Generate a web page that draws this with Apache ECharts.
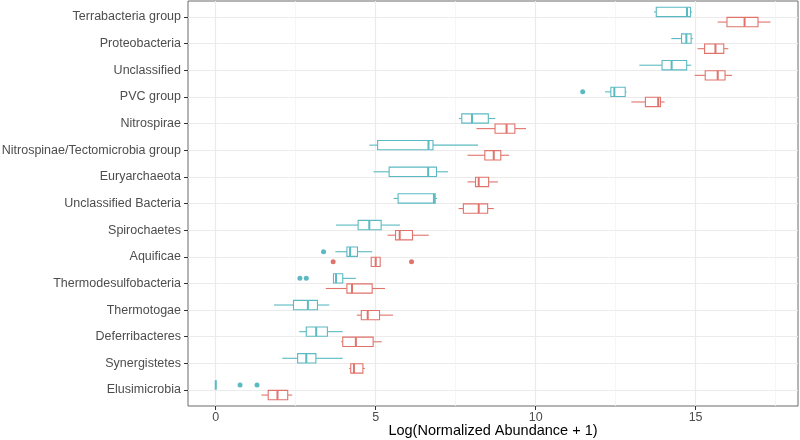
<!DOCTYPE html>
<html>
<head>
<meta charset="utf-8">
<script src="https://cdn.jsdelivr.net/npm/echarts@6/dist/echarts.min.js"></script>
<style>
  html, body { margin: 0; padding: 0; background: #fff; }
  #chart { width: 800px; height: 440px; }
</style>
</head>
<body>
<div id="chart"></div>
<script>
// categories, top to bottom
const categories = [
  'Terrabacteria group', 'Proteobacteria', 'Unclassified', 'PVC group', 'Nitrospirae',
  'Nitrospinae/Tectomicrobia group', 'Euryarchaeota', 'Unclassified Bacteria', 'Spirochaetes',
  'Aquificae', 'Thermodesulfobacteria', 'Thermotogae', 'Deferribacteres', 'Synergistetes',
  'Elusimicrobia'
]

// [lower whisker, Q1, median, Q3, upper whisker]
const tealBoxes = [
  [13.70, 13.77, 14.73, 14.84, 14.89],
  [14.24, 14.56, 14.71, 14.86, 14.92],
  [13.24, 13.95, 14.25, 14.72, 14.86],
  [12.17, 12.35, 12.46, 12.80, 12.84],
  [7.60, 7.69, 8.01, 8.52, 8.74],
  [4.80, 5.06, 6.65, 6.79, 8.20],
  [4.93, 5.42, 6.64, 6.90, 7.26],
  [5.56, 5.70, 6.82, 6.86, 6.92],
  [3.76, 4.45, 4.80, 5.17, 5.76],
  [3.74, 4.10, 4.20, 4.43, 4.89],
  [3.68, 3.68, 3.76, 3.97, 4.38],
  [1.82, 2.43, 2.88, 3.18, 3.55],
  [2.61, 2.83, 3.14, 3.49, 3.97],
  [2.08, 2.56, 2.83, 3.13, 3.97],
  [0, 0, 0, 0, 0]
]
const redBoxes = [
  [15.69, 15.98, 16.53, 16.95, 17.34],
  [15.06, 15.28, 15.62, 15.88, 16.02],
  [14.97, 15.30, 15.69, 15.92, 16.14],
  [12.99, 13.43, 13.83, 13.90, 14.03],
  [8.15, 8.73, 9.09, 9.35, 9.70],
  [7.87, 8.41, 8.69, 8.91, 9.17],
  [7.87, 8.12, 8.22, 8.53, 8.82],
  [7.59, 7.74, 8.22, 8.50, 8.69],
  [5.37, 5.62, 5.75, 6.15, 6.66],
  [4.86, 4.86, 5.00, 5.14, 5.14],
  [3.44, 4.10, 4.26, 4.89, 5.29],
  [4.41, 4.55, 4.75, 5.12, 5.54],
  [3.92, 3.97, 4.38, 4.92, 5.19],
  [4.17, 4.22, 4.32, 4.60, 4.66],
  [1.43, 1.64, 1.93, 2.25, 2.39]
]

// outliers: [value, category index]
const tealOutliers = [[11.47, 3], [3.37, 9], [2.63, 10], [2.83, 10], [0.76, 14], [1.29, 14]]
const redOutliers = [[3.67, 9], [6.12, 9]]

const xTicks = [0, 5, 10, 15]
const xMinorTicks = [2.5, 7.5, 12.5, 17.5]

const TEAL = '#5bbac1'
const RED = '#e0736b'
const DODGE = 0.19
const HALF = 0.175

function boxSeries(boxes, offset, color) {
  return {
    type: 'custom',
    xAxisIndex: 0,
    yAxisIndex: 0,
    data: boxes.map((b, i) => [i, ...b]),
    encode: { x: [1, 2, 3, 4, 5], y: 0 },
    renderItem(params, api) {
      const y = api.value(0) + offset
      const lo = api.coord([api.value(1), y])
      const q1 = api.coord([api.value(2), y])
      const md = api.coord([api.value(3), y])
      const q3 = api.coord([api.value(4), y])
      const hi = api.coord([api.value(5), y])
      const h = api.size([0, HALF * 2])[1]
      const top = md[1] - h / 2
      return {
        type: 'group',
        children: [
          { type: 'line', shape: { x1: lo[0], y1: lo[1], x2: q1[0], y2: q1[1] }, style: { stroke: color, lineWidth: 1.1 } },
          { type: 'line', shape: { x1: q3[0], y1: q3[1], x2: hi[0], y2: hi[1] }, style: { stroke: color, lineWidth: 1.1 } },
          { type: 'rect', shape: { x: q1[0], y: top, width: q3[0] - q1[0], height: h }, style: { fill: '#fff', stroke: color, lineWidth: 1.1 } },
          { type: 'line', shape: { x1: md[0], y1: top, x2: md[0], y2: top + h }, style: { stroke: color, lineWidth: 2 } }
        ]
      }
    },
    z: 3
  }
}

function outlierSeries(points, offset, color) {
  return {
    type: 'scatter',
    data: points.map(p => [p[0], p[1] + offset]),
    symbolSize: 5,
    itemStyle: { color: color, opacity: 1 },
    z: 4
  }
}

const chart = echarts.init(document.getElementById('chart'))

chart.setOption({
  animation: false,
  textStyle: { fontFamily: 'Liberation Sans, Arial, sans-serif' },
  grid: {
    left: 188, right: 2, top: 1, bottom: 34,
    containLabel: false, outerBoundsMode: 'none',
    show: true, borderColor: '#6b6b6b', borderWidth: 1, backgroundColor: '#fff'
  },
  xAxis: [
    {
      type: 'value', min: -0.867, max: 18.2, position: 'bottom',
      name: 'Log(Normalized Abundance + 1)',
      nameLocation: 'middle', nameGap: 25, nameMoveOverlap: false,
      nameTextStyle: { fontSize: 14.5, color: '#000', verticalAlign: 'middle' },
      axisLine: { show: false, onZero: false },
      axisTick: { show: true, length: 4, customValues: xTicks, lineStyle: { color: '#333' } },
      axisLabel: { customValues: xTicks, fontSize: 12.5, color: '#4d4d4d', margin: 5 },
      splitLine: { show: true, lineStyle: { color: '#ebebeb', width: 1.2 } }
    },
    {
      type: 'value', min: -0.867, max: 18.2, position: 'bottom',
      axisLine: { show: false, onZero: false },
      axisTick: { show: false, customValues: xMinorTicks },
      axisLabel: { show: false, customValues: xMinorTicks },
      splitLine: { show: true, lineStyle: { color: '#f2f2f2', width: 0.8 } }
    }
  ],
  yAxis: {
    type: 'value', min: -0.6, max: 14.6, inverse: true, position: 'left',
    axisLine: { show: false, onZero: false },
    axisTick: { show: true, length: 4, customValues: categories.map((c, i) => i), lineStyle: { color: '#333' } },
    axisLabel: {
      customValues: categories.map((c, i) => i),
      formatter: v => categories[Math.round(v)],
      fontSize: 12.5, color: '#4d4d4d', margin: 7
    },
    splitLine: { show: true, lineStyle: { color: '#ebebeb', width: 1.2 } }
  },
  series: [
    boxSeries(tealBoxes, -DODGE, TEAL),
    boxSeries(redBoxes, DODGE, RED),
    outlierSeries(tealOutliers, -DODGE, TEAL),
    outlierSeries(redOutliers, DODGE, RED)
  ]
})
</script>
</body>
</html>
